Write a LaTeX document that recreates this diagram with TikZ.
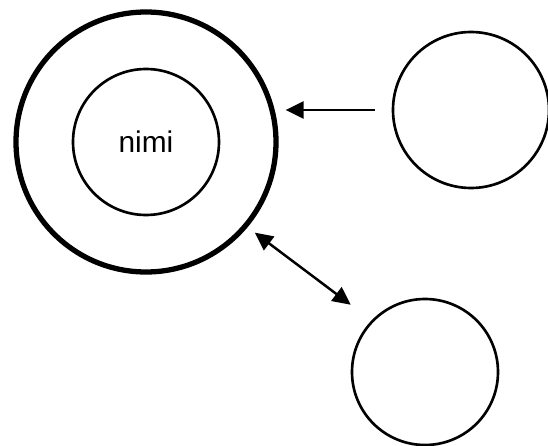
\documentclass[tikz,border=0pt]{standalone}
\usepackage{fontspec}
\setmainfont{Liberation Sans}
\usetikzlibrary{arrows.meta,positioning}

\begin{document}
\begin{tikzpicture}[
    ring/.style={circle, draw, line width=1.5pt, inner sep=0pt, align=center},
    thickring/.style={circle, draw, line width=3pt, inner sep=0pt},
    arr/.style={line width=1.4pt, -{Triangle[length=0.36cm, width=0.34cm]}},
    dblarr/.style={line width=1.4pt, {Triangle[length=0.36cm, width=0.34cm]}-{Triangle[length=0.36cm, width=0.34cm]}},
]

% Canvas
\useasboundingbox (0,0) rectangle (10.96,-8.92);

% Outer circle and inner circle
\node[thickring, minimum size=5.2cm] (outer) at (2.92,-2.84) {};
\node[ring, minimum size=2.92cm, font=\fontsize{17}{20}\selectfont] (inner) at (2.92,-2.84) {nimi};

% Other circles
\node[ring, minimum size=3.12cm] (right) at (9.42,-2.2) {};
\node[ring, minimum size=2.92cm] (lower) at (8.5,-7.44) {};

% Arrows
\draw[arr, shorten <=0.34cm, shorten >=0.14cm] (right.west) -- (right.west -| outer.east);
\draw[dblarr, shorten <=0.18cm, shorten >=0.52cm] (outer.-40) -- (lower.136);

\end{tikzpicture}
\end{document}
